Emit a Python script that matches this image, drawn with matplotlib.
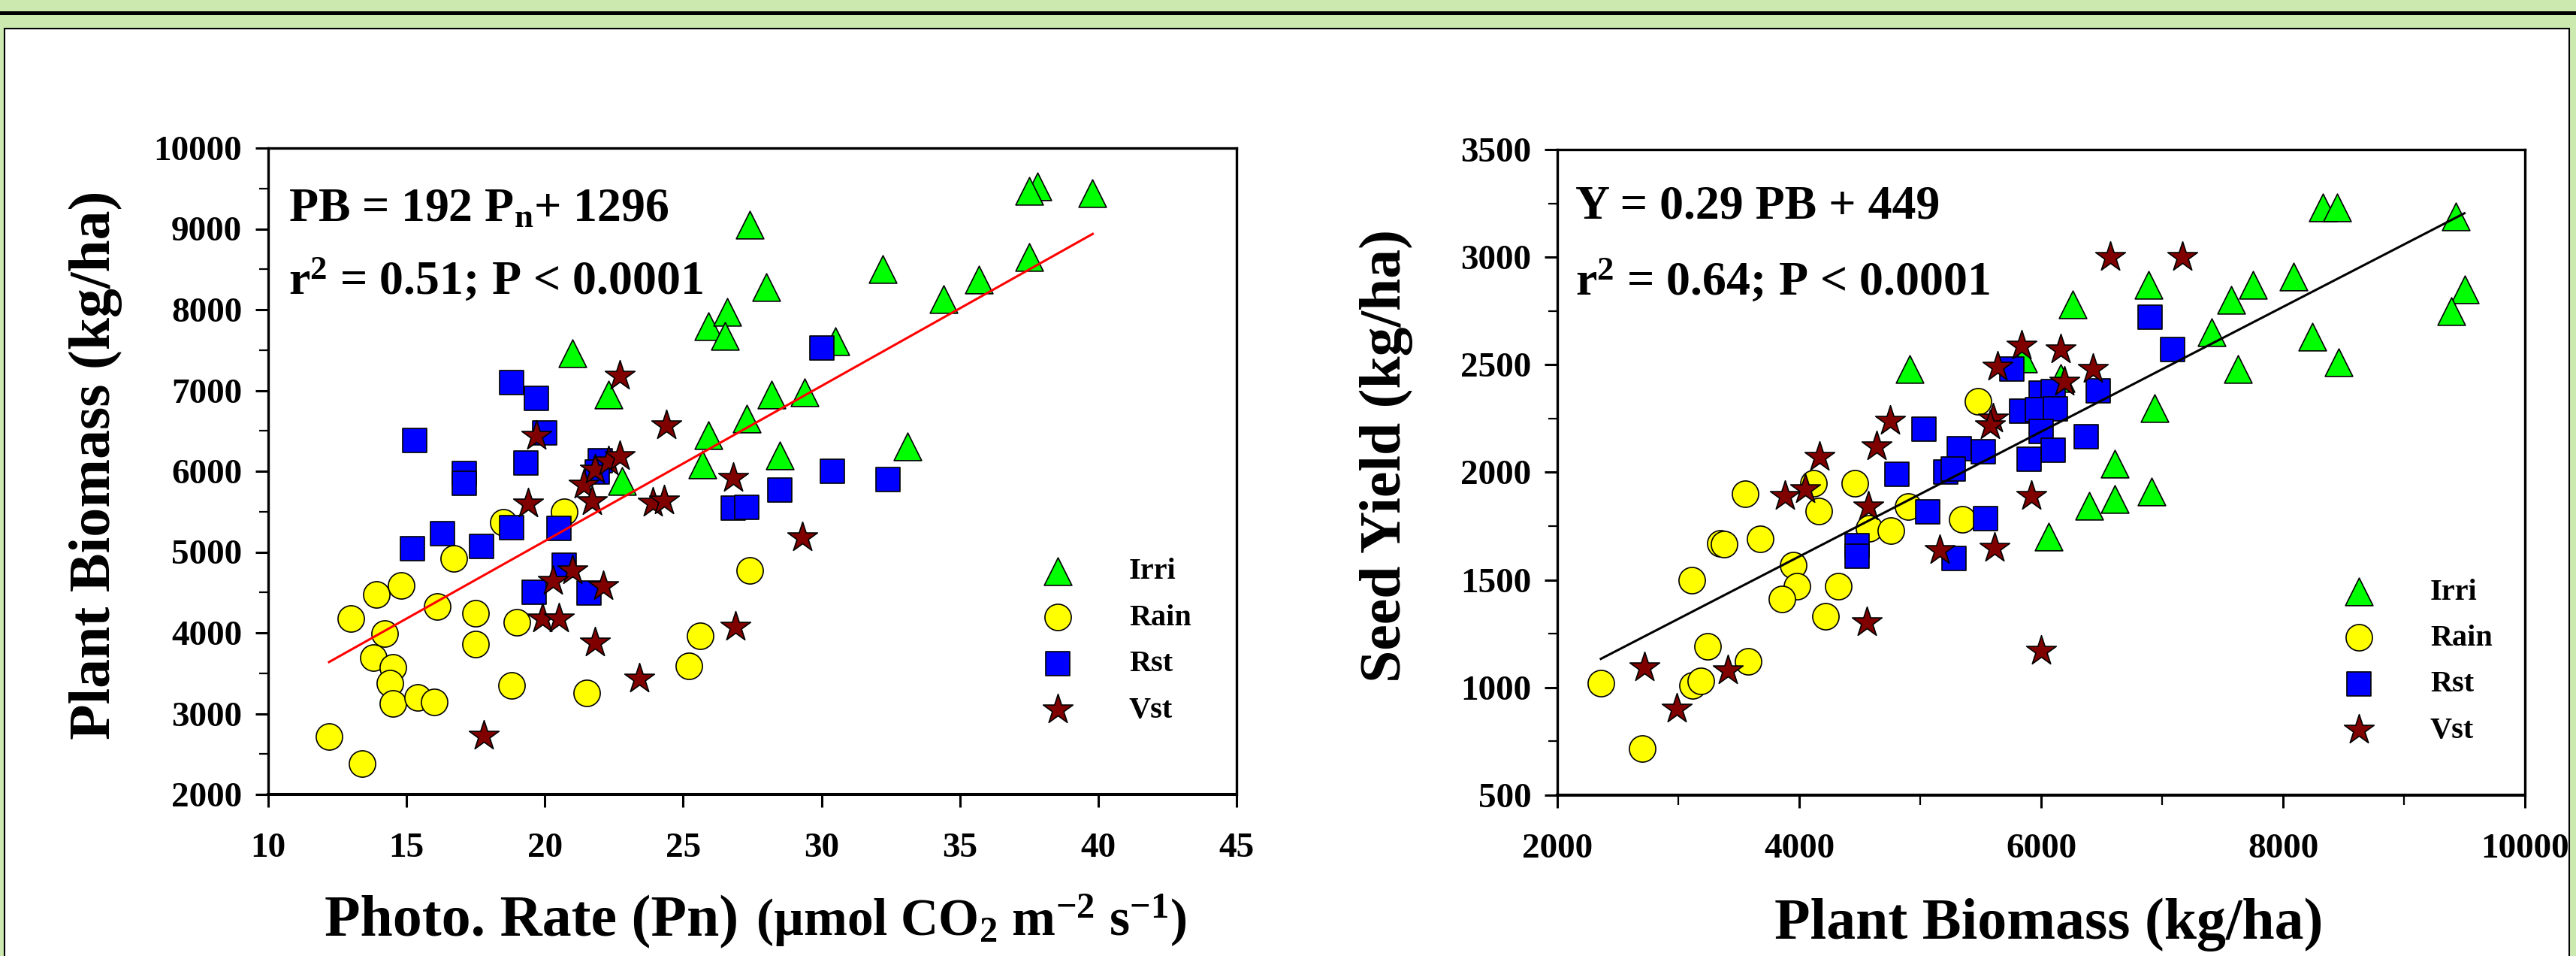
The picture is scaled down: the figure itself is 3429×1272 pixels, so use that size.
import matplotlib
matplotlib.use("Agg")
import matplotlib.pyplot as plt
from matplotlib.patches import Rectangle
from matplotlib.lines import Line2D
from matplotlib.ticker import MultipleLocator

plt.rcParams["font.family"] = ["Liberation Serif", "DejaVu Serif"]
plt.rcParams["font.weight"] = "bold"
plt.rcParams["mathtext.fontset"] = "custom"
plt.rcParams["mathtext.rm"] = "Liberation Serif:bold"
plt.rcParams["mathtext.it"] = "Liberation Serif:bold"
plt.rcParams["mathtext.bf"] = "Liberation Serif:bold"

# ---- left panel: photosynthetic rate (Pn) vs plant biomass (PB) ----
irri_pn = [27.4, 25.9, 26.6, 26.5, 21.0, 22.3, 25.9, 25.7, 27.3, 22.8, 37.8, 37.5,
           39.8, 37.5, 32.2, 28.0, 35.7, 34.4, 30.5, 28.2, 29.4, 28.5, 33.1]
irri_pb = [9050, 7800, 7970, 7670, 7460, 6950, 6450, 6080, 6650, 5880, 9530, 9470,
           9440, 8650, 8500, 8280, 8370, 8130, 7610, 6950, 6980, 6200, 6310]
rain_pn = [12.2, 13.4, 13.0, 13.9, 14.8, 14.2, 13.8, 14.5, 14.4, 14.5, 15.4, 16.0,
           16.1, 16.7, 17.5, 17.5, 18.5, 19.0, 18.8, 20.7, 21.5, 25.2, 25.6, 27.4]
rain_pb = [2720, 2380, 4180, 4470, 4590, 3990, 3690, 3570, 3380, 3130, 3200, 3140,
           4330, 4920, 4240, 3860, 5370, 4130, 3350, 5500, 3260, 3590, 3960, 4770]
rst_pn = [18.8, 19.7, 20.0, 15.3, 19.3, 17.1, 17.1, 22.0, 21.9, 15.2, 16.3, 17.7,
          18.8, 20.5, 20.7, 19.6, 21.6, 26.8, 27.3, 28.5, 30.4, 32.4, 30.0]
rst_pb = [7100, 6900, 6470, 6380, 6100, 5970, 5850, 6130, 5990, 5040, 5230, 5070,
          5300, 5290, 4840, 4500, 4490, 5540, 5550, 5770, 6000, 5900, 7530]
vst_pn = [17.8, 19.4, 21.4, 21.7, 21.8, 22.3, 22.7, 23.9, 24.3, 26.8, 21.0, 20.3,
          22.1, 19.9, 20.5, 21.8, 23.4, 26.9, 29.3, 22.7, 24.4, 19.7]
vst_pb = [2730, 5600, 5830, 5630, 6020, 6120, 6190, 5610, 5640, 5920, 4770, 4640,
          4580, 4180, 4180, 3880, 3430, 4070, 5180, 7180, 6570, 6440]
pb_slope, pb_icept = 192, 1296

# ---- right panel: plant biomass (PB) vs seed yield (Y) ----
irri_bm = [4910, 8330, 8450, 9430, 6890, 6260, 7750, 7570, 8090, 9500, 9390, 7410,
           8240, 8460, 7630, 6940, 6610, 5850, 6160, 6910, 6400, 6610, 6060]
irri_sy = [2480, 3230, 3230, 3190, 2870, 2780, 2870, 2800, 2910, 2850, 2750, 2650,
           2630, 2510, 2480, 2300, 2040, 2530, 2440, 1910, 1845, 1875, 1700]
rain_bm = [2360, 2700, 3110, 3350, 3380, 3550, 3680, 3245, 3120, 3185, 3580, 3950,
           3980, 3860, 4120, 4160, 4220, 4320, 4460, 4575, 4760, 4900, 5350, 5480]
rain_sy = [1020, 715, 1500, 1670, 1665, 1900, 1690, 1190, 1010, 1030, 1120, 1570,
           1470, 1410, 1950, 1820, 1330, 1470, 1950, 1740, 1730, 1840, 1780, 2330]
rst_bm = [5030, 4810, 5210, 5320, 6900, 7090, 5760, 6470, 6000, 6100, 5840, 5970,
          6120, 6000, 6370, 6100, 5900, 5520, 5275, 4480, 4480, 5060, 5280, 5540]
rst_sy = [2200, 1990, 2000, 2110, 2720, 2570, 2480, 2380, 2370, 2376, 2283, 2290,
          2295, 2190, 2166, 2102, 2061, 2096, 2014, 1660, 1610, 1815, 1600, 1785]
vst_bm = [4750, 4640, 4170, 6570, 7170, 5840, 6160, 5640, 6430, 6190, 5600, 5580,
          2720, 2990, 3410, 3880, 4050, 4570, 4560, 5160, 5920, 5615, 6000]
vst_sy = [2240, 2120, 2070, 3000, 3000, 2590, 2570, 2490, 2480, 2420, 2250, 2220,
          1095, 900, 1080, 1890, 1920, 1840, 1305, 1640, 1890, 1650, 1170]
sy_slope, sy_icept = 0.29, 449

groups = ["Irri", "Rain", "Rst", "Vst"]
style = {
    "Irri": dict(marker="^", c="#00ff00", s=700),
    "Rain": dict(marker="o", c="#ffff00", s=640),
    "Rst": dict(marker="s", c="#0000ff", s=540),
    "Vst": dict(marker="*", c="#800000", s=900),
}

fig = plt.figure(figsize=(34.3, 12.72), dpi=100, facecolor="#cceab0")
fig.patches.append(Rectangle((6 / 3430, -0.01), 3414 / 3430, 1 - 38 / 1272 + 0.01,
                             transform=fig.transFigure, facecolor="white",
                             edgecolor="black", linewidth=1.5, zorder=-10))
fig.lines.append(Line2D([0, 1], [1 - 17 / 1272] * 2, transform=fig.transFigure,
                        color="black", linewidth=3.6, zorder=-5))

ax1 = fig.add_axes([357 / 3430, 1 - 1057 / 1272, 1289 / 3430, 860 / 1272])
ax2 = fig.add_axes([2073 / 3430, 1 - 1058 / 1272, 1288 / 3430, 859 / 1272])

left = {"Irri": (irri_pn, irri_pb), "Rain": (rain_pn, rain_pb),
        "Rst": (rst_pn, rst_pb), "Vst": (vst_pn, vst_pb)}
right = {"Irri": (irri_bm, irri_sy), "Rain": (rain_bm, rain_sy),
         "Rst": (rst_bm, rst_sy), "Vst": (vst_bm, vst_sy)}

for ax, data, slope, icept, lcol in [(ax1, left, pb_slope, pb_icept, "red"),
                                     (ax2, right, sy_slope, sy_icept, "black")]:
    for g in groups:
        ax.scatter(data[g][0], data[g][1], edgecolors="black", linewidths=1.2,
                   label=g, zorder=3, **style[g])
    xs = [v for g in groups for v in data[g][0]]
    x0, x1 = min(xs), max(xs)
    ax.plot([x0, x1], [slope * x0 + icept, slope * x1 + icept], color=lcol,
            linewidth=2.2, zorder=4)
    for side in ["top", "bottom", "left", "right"]:
        ax.spines[side].set_linewidth(2.4)
    ax.spines["bottom"].set_linewidth(2.9)
    ax.tick_params(which="major", direction="out", length=12, width=2.2,
                   labelsize=34)
    ax.tick_params(which="minor", direction="out", length=9, width=1.6)
    ax.tick_params(axis="x", which="major", pad=25)
    ax.tick_params(axis="y", which="major", pad=13)
    ax.legend(loc="upper left", frameon=False, fontsize=29, scatterpoints=1,
              handlelength=1.0, handletextpad=1.85, labelspacing=0.6,
              borderpad=0, borderaxespad=0,
              bbox_to_anchor=(0.80, 0.366) if ax is ax1 else (0.813, 0.336))

ax1.set_xlim(10, 45)
ax1.set_ylim(2000, 10000)
ax1.xaxis.set_major_locator(MultipleLocator(5))
ax1.yaxis.set_major_locator(MultipleLocator(1000))
ax1.yaxis.set_minor_locator(MultipleLocator(500))

ax2.set_xlim(2000, 10000)
ax2.set_ylim(500, 3500)
ax2.xaxis.set_major_locator(MultipleLocator(2000))
ax2.xaxis.set_minor_locator(MultipleLocator(1000))
ax2.yaxis.set_major_locator(MultipleLocator(500))
ax2.yaxis.set_minor_locator(MultipleLocator(250))

ax1.text(0.021, 0.887, r"PB = 192 P$_{\mathrm{n}}$+ 1296", transform=ax1.transAxes,
         fontsize=46, va="baseline")
ax1.text(0.021, 0.774, r"r$^{2}$ = 0.51; P < 0.0001", transform=ax1.transAxes,
         fontsize=46, va="baseline")
ax2.text(0.019, 0.894, "Y = 0.29 PB + 449", transform=ax2.transAxes,
         fontsize=46, va="baseline")
ax2.text(0.019, 0.774, r"r$^{2}$ = 0.64; P < 0.0001", transform=ax2.transAxes,
         fontsize=46, va="baseline")

ax1.text(-0.178, 0.51, "Plant Biomass (kg/ha)", transform=ax1.transAxes,
         rotation=90, ha="center", va="center", fontsize=56)
ax2.text(-0.177, 0.526, "Seed Yield (kg/ha)", transform=ax2.transAxes,
         rotation=90, ha="center", va="center", fontsize=56)

fig.text(983 / 3430, 1 - 1245 / 1272, "Photo. Rate (Pn)", ha="right",
         va="baseline", fontsize=56)
fig.text(1006 / 3430, 1 - 1245 / 1272,
         r"(µmol CO$_{2}$ m$^{-2}$ s$^{-1}$)", ha="left", va="baseline",
         fontsize=50)
fig.text(2727 / 3430, 1 - 1249 / 1272, "Plant Biomass (kg/ha)", ha="center",
         va="baseline", fontsize=56)

fig.savefig("out.png", dpi=100, facecolor=fig.get_facecolor())
